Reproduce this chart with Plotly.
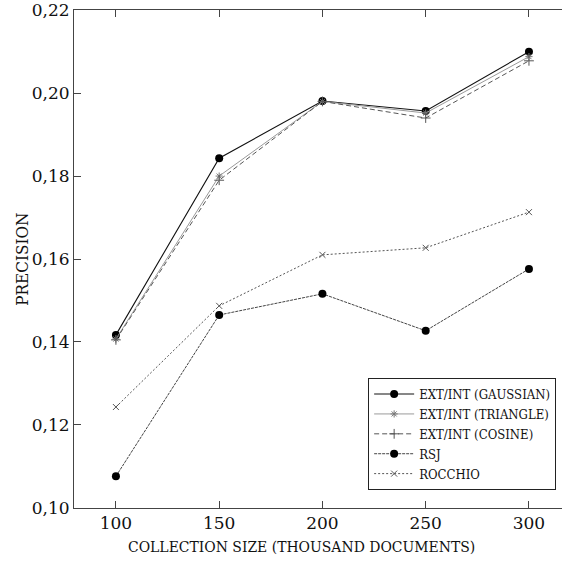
import plotly.graph_objects as go

sizes = [100, 150, 200, 250, 300]
gaussian = [0.1417, 0.1843, 0.1981, 0.1957, 0.2100]
triangle = [0.1407, 0.1800, 0.1980, 0.1952, 0.2088]
cosine = [0.1405, 0.1790, 0.1980, 0.1940, 0.2078]
rsj = [0.1076, 0.1465, 0.1516, 0.1427, 0.1576]
rocchio = [0.1243, 0.1487, 0.1610, 0.1627, 0.1713]

names = ["EXT/INT (GAUSSIAN)", "EXT/INT (TRIANGLE)", "EXT/INT (COSINE)", "RSJ", "ROCCHIO"]
y_ticks = [0.10, 0.12, 0.14, 0.16, 0.18, 0.20, 0.22]

TICKFONT = "DejaVu Serif"
FONT = "DejaVu Serif Condensed, Liberation Serif"

fig = go.Figure()
fig.add_trace(go.Scatter(x=sizes, y=gaussian, name=names[0], mode="lines+markers",
                         line=dict(color="#111111", width=1.1),
                         marker=dict(symbol="circle", size=8, color="#000000")))
fig.add_trace(go.Scatter(x=sizes, y=triangle, name=names[1], mode="lines+markers",
                         line=dict(color="#9a9a9a", width=1),
                         marker=dict(symbol="asterisk-open", size=6, color="#777777",
                                     line=dict(width=1, color="#777777"))))
fig.add_trace(go.Scatter(x=sizes, y=cosine, name=names[2], mode="lines+markers",
                         line=dict(color="#555555", width=1, dash="5px,3px"),
                         marker=dict(symbol="cross-thin-open", size=7, color="#555555",
                                     line=dict(width=1, color="#555555"))))
fig.add_trace(go.Scatter(x=sizes, y=rsj, name=names[3], mode="lines+markers",
                         line=dict(color="#444444", width=1, dash="3px,1px"),
                         marker=dict(symbol="circle", size=8, color="#000000")))
fig.add_trace(go.Scatter(x=sizes, y=rocchio, name=names[4], mode="lines+markers",
                         line=dict(color="#555555", width=1, dash="2px,2px"),
                         marker=dict(symbol="x-thin-open", size=6, color="#555555",
                                     line=dict(width=1, color="#555555"))))

fig.update_layout(
    width=562, height=561,
    margin=dict(l=74, r=0, t=10, b=53),
    paper_bgcolor="white", plot_bgcolor="white",
    separators=",.",
    font=dict(family=FONT, color="#111111"),
    showlegend=True,
    legend=dict(x=0.988, y=0.036, xanchor="right", yanchor="bottom",
                bordercolor="#222222", borderwidth=1, bgcolor="white",
                font=dict(family=FONT, size=13, color="#111111"),
                tracegroupgap=0, itemwidth=40),
    xaxis=dict(range=[79.7, 316], tickvals=sizes, ticks="inside", ticklen=7,
               tickcolor="#444444", showline=True, linecolor="#444444", linewidth=1,
               mirror="ticks", showgrid=False, zeroline=False,
               tickfont=dict(family=TICKFONT, size=17, color="#111111")),
    yaxis=dict(range=[0.09995, 0.22005], tickvals=y_ticks, tickformat=".2f", ticks="inside",
               ticklen=7, tickcolor="#444444", showline=True, linecolor="#444444",
               linewidth=1, showgrid=False, zeroline=False,
               tickfont=dict(family=TICKFONT, size=17, color="#111111")),
    annotations=[
        dict(text="COLLECTION SIZE (THOUSAND DOCUMENTS)", x=0.467, y=-0.078,
             xref="paper", yref="paper", xanchor="center", yanchor="middle",
             showarrow=False, font=dict(family=FONT, size=15.5, color="#111111")),
        dict(text="PRECISION", x=-0.107, y=0.5, xref="paper", yref="paper",
             xanchor="center", yanchor="middle", textangle=-90,
             showarrow=False, font=dict(family=FONT, size=17, color="#111111")),
    ],
)

fig.write_html("out.html")
